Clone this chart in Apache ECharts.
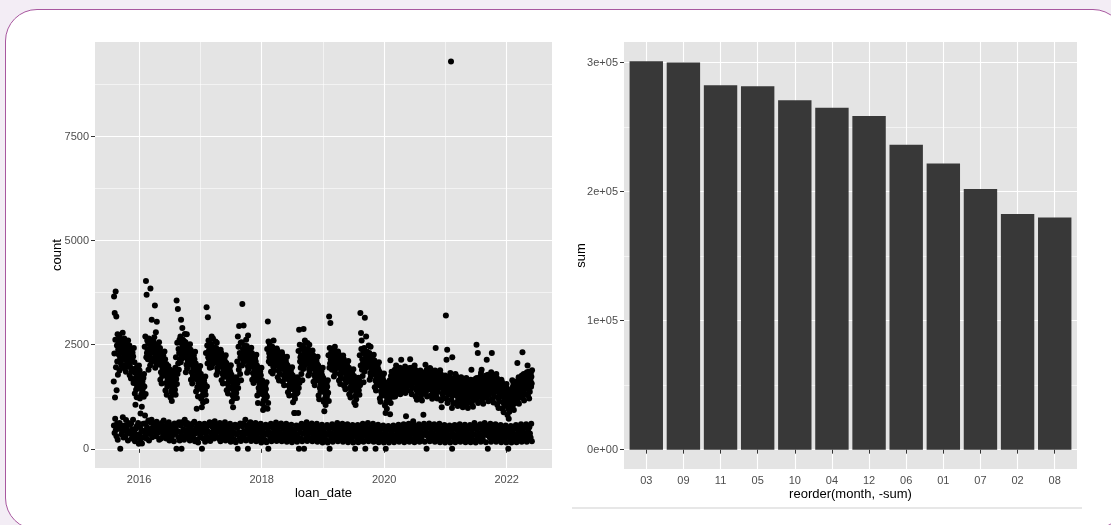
<!DOCTYPE html>
<html>
<head>
<meta charset="utf-8">
<script src="https://cdn.jsdelivr.net/npm/echarts@6/dist/echarts.min.js"></script>
<style>
  html, body { margin: 0; padding: 0; background: #f3edf5; overflow: hidden; }
  .frame { position: absolute; left: 5px; top: 9px; width: 1120px; height: 521px;
           border: 1.5px solid #a8579f; border-radius: 32px; background: #fff; box-sizing: border-box; }
  #chart { position: absolute; left: 0; top: 0; width: 1111px; height: 525px; }
</style>
</head>
<body>
<div class="frame"></div>
<div id="chart"></div>
<script>
// left panel: daily loans, one row per month (weekday band / weekend band)
const scatterMonths = [
  '2015-08','2015-09','2015-10','2015-11','2015-12',
  '2016-01','2016-02','2016-03','2016-04','2016-05','2016-06','2016-07','2016-08','2016-09','2016-10','2016-11','2016-12',
  '2017-01','2017-02','2017-03','2017-04','2017-05','2017-06','2017-07','2017-08','2017-09','2017-10','2017-11','2017-12',
  '2018-01','2018-02','2018-03','2018-04','2018-05','2018-06','2018-07','2018-08','2018-09','2018-10','2018-11','2018-12',
  '2019-01','2019-02','2019-03','2019-04','2019-05','2019-06','2019-07','2019-08','2019-09','2019-10','2019-11','2019-12',
  '2020-01','2020-02','2020-03','2020-04','2020-05','2020-06','2020-07','2020-08','2020-09','2020-10','2020-11','2020-12',
  '2021-01','2021-02','2021-03','2021-04','2021-05','2021-06','2021-07','2021-08','2021-09','2021-10','2021-11','2021-12',
  '2022-01','2022-02','2022-03','2022-04','2022-05'
];

const weekdayCounts = [
  [1620,3660,2290,3260,1230,2620,3780,1960,3180,1410,2480,2100,2750,1780,2380,2550],
  [2260,2720,1880,2470,2180,2630,2060,2350,2560,1990,2420,2150,2790,2300,2010,2530],
  [2210,2650,1930,2430,2010,2380,1850,2520,2120,2310,2250,2470,1980,2600,2160,2350],
  [2040,2480,1770,2260,1960,2190,1690,2370,1860,2140,2090,2310,1920,2220,1580,2420],
  [1610,2080,1330,1830,1060,1710,1420,1950,1240,1510,1680,1790,1460,1900,1560,2000],
  [1470,1880,1210,1660,850,1560,1300,1760,1010,1380,1620,1440,1520,1700,1250,1800],
  [1500,2450,800,2700,1320,4030,2200,3700,2300,2600,2380,2150,2520,1900,2650,2250],
  [2270,2620,2000,3850,2180,2450,2090,3100,2360,2540,2410,2310,2580,2130,2480,2680],
  [2410,3440,1950,2230,2800,2050,2500,3050,2140,2320,2260,2440,2100,2360,2560,2180],
  [2020,2420,1660,2200,1840,2300,1570,2110,1750,1930,2060,2250,1880,2150,1980,2340],
  [1760,2150,1400,1940,1580,2040,1300,1850,1490,1670,1810,1990,1620,1900,1710,1530],
  [1540,1900,1230,1710,1380,1800,1150,1620,1300,1460,1580,1760,1420,1660,1500,1850],
  [1420,1950,1300,2200,1680,3560,1560,2550,1800,3360,2050,2400,1900,2300,2620,2150],
  [2350,2700,2080,3100,2260,2530,2170,2900,2440,2620,2300,2480,2220,2580,2400,2760],
  [2200,2560,1840,2380,2020,2750,1930,2470,2110,2290,2240,2420,2060,2340,2160,2510],
  [2020,2380,1660,2200,1840,2290,1570,2110,1750,1930,2070,2240,1880,2150,1980,2330],
  [1680,2050,1380,1860,960,1770,1480,1950,1260,1580,1720,1900,1530,1820,1640,1990],
  [1440,1800,1200,1610,1000,1520,1280,1700,1110,1360,1480,1650,1320,1560,1400,1740],
  [1300,2300,1150,3400,1500,2480,2050,3160,2200,2600,2350,2150,2420,1950,2520,2250],
  [2200,2520,1960,2700,2120,2360,2040,2650,2280,2440,2240,2400,2080,2320,2160,2580],
  [2100,2420,1780,2550,1940,2260,1860,2340,2020,2180,2140,2300,1980,2220,2060,2380],
  [1970,2300,1650,2130,1810,2210,1570,2050,1730,1890,2010,2170,1850,2090,1930,2250],
  [1730,2060,1410,1890,1570,1970,1330,1810,1490,1650,1770,1930,1610,1850,1690,2010],
  [1450,1780,1130,1610,1290,1690,1000,1530,1210,1370,1490,1650,1330,1570,1410,1720],
  [1340,1700,1220,2100,1580,2700,1460,2450,1900,2950,2000,2300,1800,2200,2550,1650],
  [2240,2560,2000,3480,2160,2400,2080,2960,2320,2480,2280,2440,2120,2360,2200,2620],
  [2150,2470,1830,2310,1990,2720,1910,2390,2070,2230,2190,2350,2030,2270,2110,2430],
  [1980,2300,1660,2140,1820,2220,1580,2060,1740,1900,2020,2180,1860,2100,1940,2260],
  [1640,2000,1280,1820,1100,1730,1460,1910,1370,1550,1680,1860,1500,1770,1600,1950],
  [1320,1650,1080,1480,930,1400,1160,1560,1000,1240,1360,1520,1200,1440,1280,1600],
  [1250,2400,960,3060,1100,2580,2100,2300,2200,2500,2250,2050,2350,1850,2450,2150],
  [2130,2450,1810,2290,1970,2600,1890,2370,2050,2210,2170,2330,2010,2250,2090,2410],
  [2040,2360,1720,2200,1880,2280,1640,2120,1800,1960,2080,2240,1920,2160,2000,2320],
  [1930,2250,1610,2090,1770,2170,1530,2010,1690,1850,1970,2130,1810,2050,1890,2210],
  [1680,2000,1360,1840,1520,1920,1280,1760,1440,1600,1720,1880,1560,1800,1640,1960],
  [1440,1760,1120,1600,1280,1680,860,1520,1200,1360,1480,1640,1320,1560,1400,1720],
  [1350,1700,860,2350,1460,2860,1580,2500,2100,2200,1950,2250,1800,2050,2400,1650],
  [2160,2480,1920,2880,2080,2320,2000,2600,2240,2400,2200,2360,2040,2280,2120,2540],
  [2080,2400,1760,2240,1920,2500,1840,2320,2000,2160,2120,2280,1960,2200,2040,2360],
  [1930,2250,1610,2090,1770,2170,1530,2010,1690,1850,1970,2130,1810,2050,1890,2210],
  [1640,2000,1280,1820,1190,1730,1460,1910,1370,1550,1680,1860,1500,1770,1600,1950],
  [1370,1700,1130,1530,900,1450,1210,1610,1050,1290,1410,1570,1250,1490,1330,1650],
  [1350,2250,1150,3180,1950,2420,2050,3020,2150,2300,2100,2200,1900,2350,2000,2260],
  [2060,2380,1740,2220,1900,2450,1820,2300,1980,2140,2100,2260,1940,2180,2020,2340],
  [1960,2280,1640,2120,1800,2200,1560,2040,1720,1880,2000,2160,1840,2080,1920,2240],
  [1830,2150,1510,1990,1670,2070,1430,1910,1590,1750,1870,2030,1710,1950,1790,2110],
  [1630,1950,1310,1790,1470,1870,1230,1710,1390,1550,1670,1830,1510,1750,1590,1910],
  [1430,1750,1110,1590,1270,1670,1050,1510,1190,1350,1470,1630,1310,1550,1390,1710],
  [1410,1650,1300,2250,1530,3260,2000,2780,2400,2600,1900,2150,1750,2050,2300,1600],
  [2100,2420,1860,3150,2020,2260,1940,2700,2180,2340,2140,2300,1980,2220,2060,2480],
  [1980,2300,1660,2140,1820,2450,1740,2220,1900,2060,2020,2180,1860,2100,1940,2260],
  [1800,2120,1480,1960,1640,2040,1400,1880,1560,1720,1840,2000,1680,1920,1760,2080],
  [1530,1850,1210,1690,1130,1610,1370,1770,1290,1450,1570,1730,1410,1650,1490,1810],
  [1280,1600,1040,1440,860,1360,1120,1520,960,1200,1320,1480,1160,1400,1240,1560],
  [1200,1650,830,2130,1100,1750,1300,1850,1450,1550,1400,1600,1250,1700,1500,1800],
  [1580,1900,1260,1740,1420,2000,1340,1820,1500,1660,1620,1780,1460,1700,1540,1860],
  [1630,1950,1310,1790,1470,2140,1390,1870,1550,1710,1670,1830,1510,1750,1590,1910],
  [1660,1980,1340,1820,780,1900,1420,1740,1500,1580,1700,1860,1540,1780,1620,1940],
  [1710,2150,1390,1870,1550,1950,1310,1790,1470,1630,1750,1910,1590,1830,1670,2000],
  [1580,1900,1260,1740,1420,1820,1180,1660,1340,1500,1620,1780,1460,1700,1540,1860],
  [1560,1880,1240,1720,1400,1800,1160,1640,1320,1480,1600,1760,1440,1680,1520,1840],
  [1660,2020,1340,1820,1500,1900,1260,1740,1420,1580,1700,1860,1540,1780,1620,1940],
  [1600,1920,1280,1760,1440,1840,1200,1680,1360,1520,1640,1800,1480,1720,1560,1880],
  [1610,2420,1290,1770,1450,1850,1210,1690,1370,1530,1650,1810,1490,1730,1570,1890],
  [1480,1800,1160,1640,1000,1720,1320,1560,1240,1400,1520,1680,1360,1600,1440,1760],
  [1500,3200,1200,2140,1400,2380,1100,1700,1300,1600,1540,1660,1380,1740,1460,1820],
  [1480,9300,1180,1680,980,2200,1280,1580,1080,1380,1520,1640,1340,1720,1440,1800],
  [1430,1750,1110,1590,1270,1670,1030,1510,1190,1350,1470,1630,1310,1550,1390,1710],
  [1400,1720,1080,1560,1240,1640,1000,1480,1160,1320,1440,1600,1280,1520,1360,1680],
  [1380,1700,1060,1540,1220,1620,980,1460,1140,1300,1420,1580,1260,1500,1340,1660],
  [1410,1900,1090,1570,1250,1650,1010,1490,1170,1330,1450,1610,1290,1530,1370,1690],
  [1500,2500,1180,1700,1340,2300,1100,1600,1260,1420,1540,1660,1380,1740,1460,1820],
  [1480,1900,1160,1640,1320,1720,1080,1560,1240,1400,1520,1680,1360,1600,1440,1760],
  [1540,2140,1220,1700,1380,1780,1140,1620,1300,1460,1580,1740,1420,1660,1500,1840],
  [1510,2300,1190,1670,1350,1750,1110,1590,1270,1430,1550,1710,1390,1630,1470,1800],
  [1380,1700,1060,1540,1220,1620,980,1460,1140,1300,1420,1580,1260,1500,1340,1660],
  [1280,1600,960,1440,1120,1520,880,1360,1040,1200,1320,1480,1160,1400,1240,1560],
  [1130,1450,810,1290,970,1370,720,1210,890,1050,1170,1330,1010,1250,1090,1410],
  [1330,1650,1010,1490,1170,1570,930,1410,1090,1250,1370,1530,1210,1450,1290,1610],
  [1480,2060,1160,1640,1320,1720,1080,1560,1240,1400,1520,1680,1360,1600,1440,1760],
  [1560,2320,1240,1720,1400,1800,1160,1640,1320,1480,1600,1760,1440,1680,1520,1840],
  [1610,2000,1290,1770,1450,1850,1210,1690,1370,1530,1650,1810,1490,1730,1570,1890]
];

const weekendCounts = [
  [560,380,720,450,300,610,220,500], [480,620,0,560,350,410,760,270], [450,560,300,690,500,380,200,620],
  [420,580,360,610,250,470,700,330], [400,180,480,260,550,330,620,120],
  [350,520,230,450,130,410,600,280], [430,610,320,250,520,380,680,200], [460,640,350,700,280,520,420,590],
  [440,600,300,650,490,380,560,220], [420,560,250,620,460,330,680,510], [390,540,250,580,440,310,640,200],
  [380,500,260,560,420,330,180,610], [370,520,0,590,420,280,640,200], [400,560,0,640,300,470,220,700],
  [410,580,320,620,460,280,530,200], [390,540,300,600,440,250,650,180], [370,500,220,560,150,420,600,280],
  [340,480,0,530,250,410,600,170], [360,520,270,580,410,260,640,190], [380,540,290,600,430,250,660,480],
  [370,520,280,580,420,240,620,180], [360,500,260,560,410,300,640,200], [350,490,240,540,400,290,600,170],
  [340,480,250,530,390,220,580,160], [350,500,0,560,400,260,610,190], [380,540,290,610,430,250,700,200],
  [370,520,0,580,420,270,640,190], [360,510,270,570,410,230,620,180], [340,480,250,530,390,200,600,150],
  [330,470,240,520,380,200,580,160], [340,480,0,540,390,250,600,180], [360,500,270,570,410,240,630,190],
  [350,490,260,550,400,230,610,180], [340,480,250,540,390,280,600,170], [330,470,240,520,380,270,580,160],
  [330,470,240,860,380,280,560,170], [340,480,0,540,390,250,600,180], [360,500,0,560,410,260,640,190],
  [350,490,260,550,400,230,610,180], [340,480,250,540,390,280,600,170], [330,470,240,520,380,210,580,150],
  [320,460,230,510,370,210,570,150], [330,470,0,520,380,240,590,170], [350,480,260,540,390,250,620,180],
  [340,470,250,530,380,230,600,170], [330,460,240,520,370,280,590,160], [320,450,230,510,360,260,570,150],
  [320,450,0,510,360,240,570,160], [330,460,240,520,370,270,600,170], [340,470,0,540,380,250,620,180],
  [330,460,240,520,370,230,600,170], [320,450,0,510,360,260,580,160], [310,440,220,500,350,200,560,150],
  [300,430,0,490,340,220,550,150], [310,440,220,500,350,250,560,160], [320,450,230,510,360,260,580,170],
  [320,450,230,510,360,260,590,160], [330,460,240,520,370,270,600,170], [320,450,230,510,360,660,580,160],
  [320,450,230,510,360,250,590,170], [330,460,240,520,370,820,600,170], [330,460,0,520,370,270,610,180],
  [320,450,230,510,360,250,590,170], [320,450,230,510,360,260,600,160], [310,440,220,500,350,240,570,150],
  [300,430,210,490,340,240,560,150], [310,440,0,500,350,250,570,160], [320,450,230,510,360,260,590,170],
  [320,450,230,510,360,250,580,160], [310,440,220,500,350,250,570,160], [310,440,220,500,350,620,570,150],
  [320,450,230,510,360,260,590,170], [320,450,230,510,360,620,580,160], [330,460,0,520,370,270,600,170],
  [320,450,230,510,360,260,590,170], [310,440,220,500,350,250,570,160], [300,430,210,490,340,240,560,150],
  [300,430,0,490,340,240,550,150], [310,440,220,500,350,250,570,160], [320,450,230,510,360,260,590,170],
  [320,450,230,510,360,260,590,170], [330,460,240,520,370,270,600,180]
];

const yearTicks = [2016, 2018, 2020, 2022];
const yearMinorTicks = [2017, 2019, 2021];
const countTicks = [0, 2500, 5000, 7500];
const countMinorTicks = [1250, 3750, 6250, 8750];

// right panel: total loans per month, sorted by total
const monthLabels = ['03', '09', '11', '05', '10', '04', '12', '06', '01', '07', '02', '08'];
const monthSums = [301000, 300200, 282400, 281700, 270800, 265100, 258700, 236300, 221800, 202000, 182700, 180000];
const sumTicks = [0, 100000, 200000, 300000];
const sumTickLabels = ['0e+00', '1e+05', '2e+05', '3e+05'];
const sumMinorTicks = [50000, 150000, 250000];

const scatterPoints = [];
scatterMonths.forEach((m, k) => {
  const [yr, mo] = m.split('-').map(Number);
  [weekdayCounts[k], weekendCounts[k]].forEach(vals => {
    vals.forEach((v, i) => {
      scatterPoints.push([yr + (mo - 1 + (i + 0.5) / vals.length) / 12, v]);
    });
  });
});
const barPoints = monthSums.map((v, i) => [i + 1, v]);

const font = '"Liberation Sans", Arial, sans-serif';
const tickLabel = { color: '#4d4d4d', fontSize: 11, fontFamily: font };
const axisName = { color: '#000', fontSize: 13, fontFamily: font };
const tickLine = { color: '#333', width: 1 };
const major = { show: true, lineStyle: { color: '#fff', width: 1.1 } };
const minor = { show: true, lineStyle: { color: '#fff', width: 0.55 } };
const hidden = { axisLine: { show: false }, axisLabel: { show: false } };

const chart = echarts.init(document.getElementById('chart'));
chart.setOption({
  animation: false,
  grid: [
    { left: 95, top: 42, width: 457, height: 426, show: true, backgroundColor: '#e4e4e4', borderWidth: 0 },
    { left: 624, top: 42, width: 453, height: 427, show: true, backgroundColor: '#e4e4e4', borderWidth: 0 }
  ],
  xAxis: [
    {
      type: 'value', gridIndex: 0, position: 'bottom', min: 2015.28, max: 2022.74,
      axisLine: { show: false },
      axisTick: { length: 4, lineStyle: tickLine, customValues: yearTicks },
      axisLabel: Object.assign({ customValues: yearTicks, margin: 6, formatter: v => String(v) }, tickLabel),
      splitLine: major,
      name: 'loan_date', nameLocation: 'middle', nameGap: 19, nameMoveOverlap: false, nameTextStyle: axisName
    },
    Object.assign({
      type: 'value', gridIndex: 0, position: 'top', min: 2015.28, max: 2022.74,
      axisTick: { show: false, customValues: yearMinorTicks },
      splitLine: minor
    }, hidden),
    {
      type: 'value', gridIndex: 1, position: 'bottom', min: 0.4, max: 12.6,
      axisLine: { show: false },
      axisTick: { length: 4, lineStyle: tickLine, customValues: barPoints.map(p => p[0]) },
      axisLabel: Object.assign({ customValues: barPoints.map(p => p[0]), margin: 6, formatter: v => monthLabels[v - 1] }, tickLabel),
      splitLine: major,
      name: 'reorder(month, -sum)', nameLocation: 'middle', nameGap: 19, nameMoveOverlap: false, nameTextStyle: axisName
    }
  ],
  yAxis: [
    {
      type: 'value', gridIndex: 0, position: 'left', min: -460, max: 9770,
      axisLine: { show: false },
      axisTick: { length: 4, lineStyle: tickLine, customValues: countTicks },
      axisLabel: Object.assign({ customValues: countTicks, margin: 6, formatter: v => String(v) }, tickLabel),
      splitLine: major,
      name: 'count', nameLocation: 'middle', nameGap: 31, nameRotate: 90, nameMoveOverlap: false, nameTextStyle: axisName
    },
    Object.assign({
      type: 'value', gridIndex: 0, position: 'right', min: -460, max: 9770,
      axisTick: { show: false, customValues: countMinorTicks },
      splitLine: minor
    }, hidden),
    {
      type: 'value', gridIndex: 1, position: 'left', min: -15000, max: 316000,
      axisLine: { show: false },
      axisTick: { length: 4, lineStyle: tickLine, customValues: sumTicks },
      axisLabel: Object.assign({ customValues: sumTicks, margin: 6, formatter: v => sumTickLabels[sumTicks.indexOf(v)] }, tickLabel),
      splitLine: major,
      name: 'sum', nameLocation: 'middle', nameGap: 36, nameRotate: 90, nameMoveOverlap: false, nameTextStyle: axisName
    },
    Object.assign({
      type: 'value', gridIndex: 1, position: 'right', min: -15000, max: 316000,
      axisTick: { show: false, customValues: sumMinorTicks },
      splitLine: minor
    }, hidden)
  ],
  graphic: [
    { type: 'line', silent: true, shape: { x1: 572, y1: 508, x2: 1082, y2: 508 }, style: { stroke: '#cfcfcf', lineWidth: 1 } }
  ],
  series: [
    {
      type: 'scatter', xAxisIndex: 0, yAxisIndex: 0, data: scatterPoints,
      symbolSize: 6, itemStyle: { color: '#000', opacity: 1 }, silent: true
    },
    {
      type: 'bar', xAxisIndex: 2, yAxisIndex: 2, data: barPoints,
      barWidth: 33.4, itemStyle: { color: '#383838' }, silent: true
    }
  ]
});
</script>
</body>
</html>
